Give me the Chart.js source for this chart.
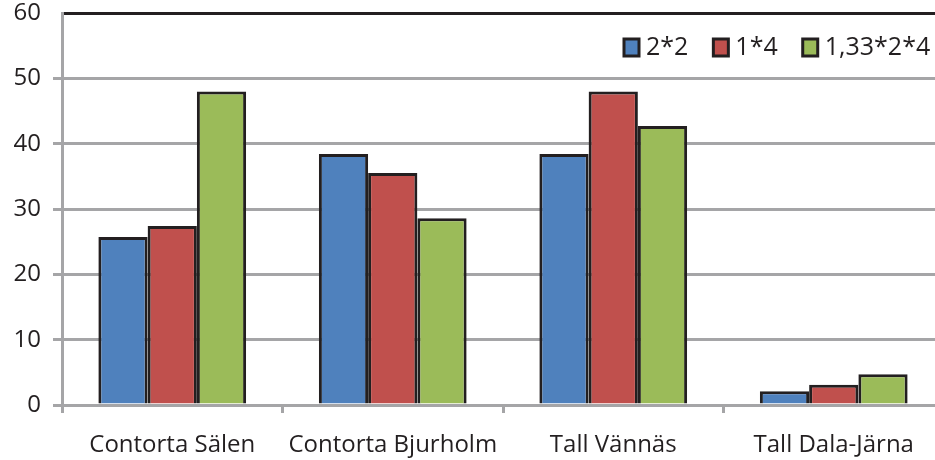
<!DOCTYPE html>
<html>
<head>
<meta charset="utf-8">
<script src="https://cdn.jsdelivr.net/npm/chart.js@4.4.1/dist/chart.umd.min.js"></script>
<style>
  html, body { margin: 0; padding: 0; background: #fff; overflow: hidden; }
  #wrap { width: 960px; height: 460px; }
</style>
</head>
<body>
<div id="wrap"><canvas id="chart" width="960" height="460"></canvas></div>
<script>
const categories = ['Contorta Sälen', 'Contorta Bjurholm', 'Tall Vännäs', 'Tall Dala-Järna'];
const seriesNames = ['2*2', '1*4', '1,33*2*4'];
const values2x2 = [25.7, 38.4, 38.4, 2.1];
const values1x4 = [27.4, 35.5, 48.0, 3.1];
const values133 = [48.0, 28.6, 42.7, 4.7];
const yTicks = [0, 10, 20, 30, 40, 50, 60];

const colors = ['#4f81bd', '#c0504d', '#9bbb59'];
const edge = '#231f20';
const gridGray = '#a5a5a7';
const fontFamily = '"Open Sans", Lato, sans-serif';

// legend drawn inside the plot, top right
const innerLegend = {
    id: 'innerLegend',
    afterDraw(chart) {
        const ctx = chart.ctx;
        ctx.save();
        ctx.font = '25px ' + fontFamily;
        ctx.textBaseline = 'middle';
        let x = 624;
        const y = 47;
        chart.data.datasets.forEach(ds => {
            ctx.fillStyle = ds.backgroundColor;
            ctx.fillRect(x, y - 8, 15, 17);
            ctx.strokeStyle = edge;
            ctx.lineWidth = 3;
            ctx.strokeRect(x, y - 8, 15, 17);
            ctx.fillStyle = edge;
            ctx.fillText(ds.label, x + 22, y + 1);
            x += 22 + ctx.measureText(ds.label).width + 25;
        });
        ctx.restore();
    }
};

const ctx = document.getElementById('chart').getContext('2d');
new Chart(ctx, {
    type: 'bar',
    data: {
        labels: categories,
        datasets: [values2x2, values1x4, values133].map((vals, i) => ({
            label: seriesNames[i],
            data: vals,
            backgroundColor: colors[i],
            borderColor: edge,
            borderWidth: 3,
            categoryPercentage: 0.67,
            barPercentage: 1.0
        }))
    },
    options: {
        responsive: false,
        animation: false,
        layout: { padding: { top: 13, right: 16, left: 0, bottom: 0 } },
        plugins: { legend: { display: false }, tooltip: { enabled: false } },
        scales: {
            x: {
                afterFit: scale => { scale.height = 55; scale.paddingLeft = 0; scale.paddingRight = 0; },
                grid: {
                    offset: true,
                    drawOnChartArea: false,
                    color: gridGray,
                    lineWidth: 3,
                    tickLength: 8
                },
                border: { color: gridGray, width: 3 },
                ticks: {
                    color: edge,
                    font: { family: fontFamily, size: 24 },
                    padding: 18,
                    maxRotation: 0
                }
            },
            y: {
                min: 0,
                max: 60,
                afterFit: scale => { scale.width = 62; scale.paddingTop = 0; scale.paddingBottom = 0; },
                afterBuildTicks: scale => { scale.ticks = yTicks.map(v => ({ value: v })); },
                grid: {
                    color: c => (c.tick && c.tick.value === 60 ? edge : gridGray),
                    tickColor: c => (c.tick && c.tick.value === 60 ? 'rgba(0,0,0,0)' : gridGray),
                    lineWidth: 3,
                    tickLength: 9
                },
                border: { color: gridGray, width: 3 },
                ticks: {
                    color: edge,
                    font: { family: fontFamily, size: 24 },
                    padding: 12
                }
            }
        }
    },
    plugins: [innerLegend]
});
</script>
</body>
</html>
